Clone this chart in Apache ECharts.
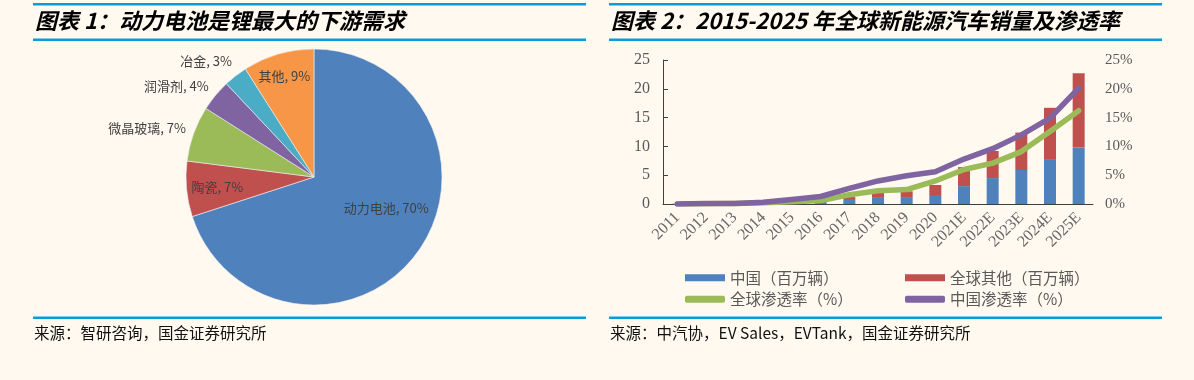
<!DOCTYPE html>
<html><head><meta charset="utf-8">
<script src="https://cdn.jsdelivr.net/npm/echarts@6/dist/echarts.min.js"></script>
<style>html,body{margin:0;padding:0;background:#FFF9F0;}#c{width:1194px;height:380px;}</style>
</head><body><div id="c"></div>
<script>
// ---- data ----
const pieNames = ['动力电池', '陶瓷', '微晶玻璃', '润滑剂', '冶金', '其他'];
const pieValues = [70, 7, 7, 4, 3, 9];

const years = ['2011','2012','2013','2014','2015','2016','2017','2018','2019','2020','2021E','2022E','2023E','2024E','2025E'];
const chinaSales = [0.01, 0.01, 0.02, 0.07, 0.3, 0.4, 0.7, 1.2, 1.2, 1.4, 3.1, 4.5, 5.9, 7.8, 9.8];
const otherSales = [0.04, 0.1, 0.18, 0.25, 0.25, 0.35, 0.5, 0.8, 1.0, 1.9, 3.3, 4.7, 6.5, 8.9, 12.9];
const globalPen = [0.0, 0.05, 0.1, 0.2, 0.4, 0.6, 1.6, 2.3, 2.5, 4.0, 6.0, 7.1, 9.1, 12.6, 16.2];
const chinaPen = [0.0, 0.1, 0.1, 0.3, 0.8, 1.3, 2.7, 4.0, 4.9, 5.6, 7.8, 9.6, 12.0, 14.9, 20.1];
const leftTicks = [0, 5, 10, 15, 20, 25];
const rightTicks = [0, 5, 10, 15, 20, 25];

const seriesNames = ['中国（百万辆）', '全球其他（百万辆）', '全球渗透率（%）', '中国渗透率（%）'];

const titles = ['图表 1：动力电池是锂最大的下游需求', '图表 2：2015-2025 年全球新能源汽车销量及渗透率'];
const sources = ['来源：智研咨询，国金证券研究所', '来源：中汽协，EV Sales，EVTank，国金证券研究所'];

// ---- styling ----
const pieColors = ['#4F81BD', '#C0504D', '#9BBB59', '#8064A2', '#4BACC6', '#F79646'];
const pieLabelPos = ['inside', 'inside', 'outside', 'outside', 'outside', 'inside'];
const pieLabelNudge = [[18, -8], [-30, 4], [0, -4], [0, -6], [2, -10], [-11, -37]];
const serif = '"Liberation Serif", "Noto Sans CJK SC", serif';
const cjk = '"Noto Sans CJK SC", sans-serif';
const lineBlue = '#0A9BDB';

const chart = echarts.init(document.getElementById('c'), null, {renderer: 'canvas'});

function panelGraphics(x0, x1, title, source) {
  return [
    {type: 'rect', shape: {x: x0, y: 3, width: x1 - x0, height: 2.5}, style: {fill: lineBlue}},
    {type: 'rect', shape: {x: x0, y: 38.5, width: x1 - x0, height: 2.5}, style: {fill: lineBlue}},
    {type: 'text', x: x0 + 2, y: 21, style: {text: title, fill: '#000', font: 'italic bold 22px ' + cjk, textVerticalAlign: 'middle'}},
    {type: 'rect', shape: {x: x0, y: 316.5, width: x1 - x0, height: 2.5}, style: {fill: lineBlue}},
    {type: 'text', x: x0 + 1, y: 333, style: {text: source, fill: '#111', font: '15.5px ' + cjk, textVerticalAlign: 'middle'}}
  ];
}

const option = {
  backgroundColor: '#FFF9F0',
  animation: false,
  graphic: panelGraphics(33, 586, titles[0], sources[0]).concat(panelGraphics(609, 1162, titles[1], sources[1])),
  grid: {left: 663, right: 101, top: 60, bottom: 176, containLabel: false},
  legend: [
    {
      left: 680, top: 265, orient: 'vertical', itemGap: 6, itemWidth: 40, itemHeight: 7,
      textStyle: {fontSize: 15.5, color: '#595959', fontFamily: cjk},
      data: [{name: seriesNames[0], icon: 'rect'}, {name: seriesNames[2], icon: 'roundRect'}]
    },
    {
      left: 900, top: 265, orient: 'vertical', itemGap: 6, itemWidth: 40, itemHeight: 7,
      textStyle: {fontSize: 15.5, color: '#595959', fontFamily: cjk},
      data: [{name: seriesNames[1], icon: 'rect'}, {name: seriesNames[3], icon: 'roundRect'}]
    }
  ],
  xAxis: {
    type: 'category', data: years, boundaryGap: true,
    axisLine: {lineStyle: {color: '#404040', width: 1}},
    axisTick: {inside: true, length: 5, lineStyle: {color: '#404040'}},
    axisLabel: {rotate: 45, margin: 11, color: '#666', fontSize: 16, fontFamily: serif, interval: 0}
  },
  yAxis: [
    {
      type: 'value', min: leftTicks[0], max: leftTicks[leftTicks.length - 1], interval: leftTicks[1] - leftTicks[0],
      axisLine: {show: true, lineStyle: {color: '#404040'}},
      axisTick: {show: true, inside: true, length: 5, lineStyle: {color: '#404040'}},
      splitLine: {show: false},
      axisLabel: {color: '#595959', fontSize: 16, fontFamily: serif, margin: 13}
    },
    {
      type: 'value', min: rightTicks[0], max: rightTicks[rightTicks.length - 1], interval: rightTicks[1] - rightTicks[0],
      axisLine: {show: false}, axisTick: {show: false}, splitLine: {show: false},
      axisLabel: {color: '#595959', fontSize: 15, fontFamily: serif, margin: 12, formatter: '{value}%'}
    }
  ],
  series: [
    {
      type: 'pie', center: [314, 177], radius: 128, startAngle: 90, clockwise: true,
      avoidLabelOverlap: false, silent: true,
      itemStyle: {borderColor: '#EEF0F4', borderWidth: 0.6},
      label: {formatter: '{b}, {c}%', color: '#404040', fontSize: 13, fontFamily: cjk},
      labelLine: {show: false, length: 6, length2: 0},
      labelLayout: function (p) { const n = pieLabelNudge[p.dataIndex]; return {dx: n[0], dy: n[1]}; },
      data: pieNames.map((n, i) => ({
        name: n, value: pieValues[i],
        itemStyle: {color: pieColors[i]},
        label: {position: pieLabelPos[i], distanceToLabelLine: 2}
      }))
    },
    {
      name: seriesNames[0], type: 'bar', stack: 'sales', data: chinaSales, barWidth: 12,
      itemStyle: {color: '#4F81BD'}, yAxisIndex: 0
    },
    {
      name: seriesNames[1], type: 'bar', stack: 'sales', data: otherSales, barWidth: 12,
      itemStyle: {color: '#C0504D'}, yAxisIndex: 0
    },
    {
      name: seriesNames[2], type: 'line', data: globalPen, yAxisIndex: 1, symbol: 'none',
      lineStyle: {color: '#9BBB59', width: 5.5, cap: 'round', join: 'round'}, itemStyle: {color: '#9BBB59'}, z: 3
    },
    {
      name: seriesNames[3], type: 'line', data: chinaPen, yAxisIndex: 1, symbol: 'none',
      lineStyle: {color: '#8064A2', width: 5.5, cap: 'round', join: 'round'}, itemStyle: {color: '#8064A2'}, z: 4
    }
  ]
};
chart.setOption(option);
</script></body></html>
